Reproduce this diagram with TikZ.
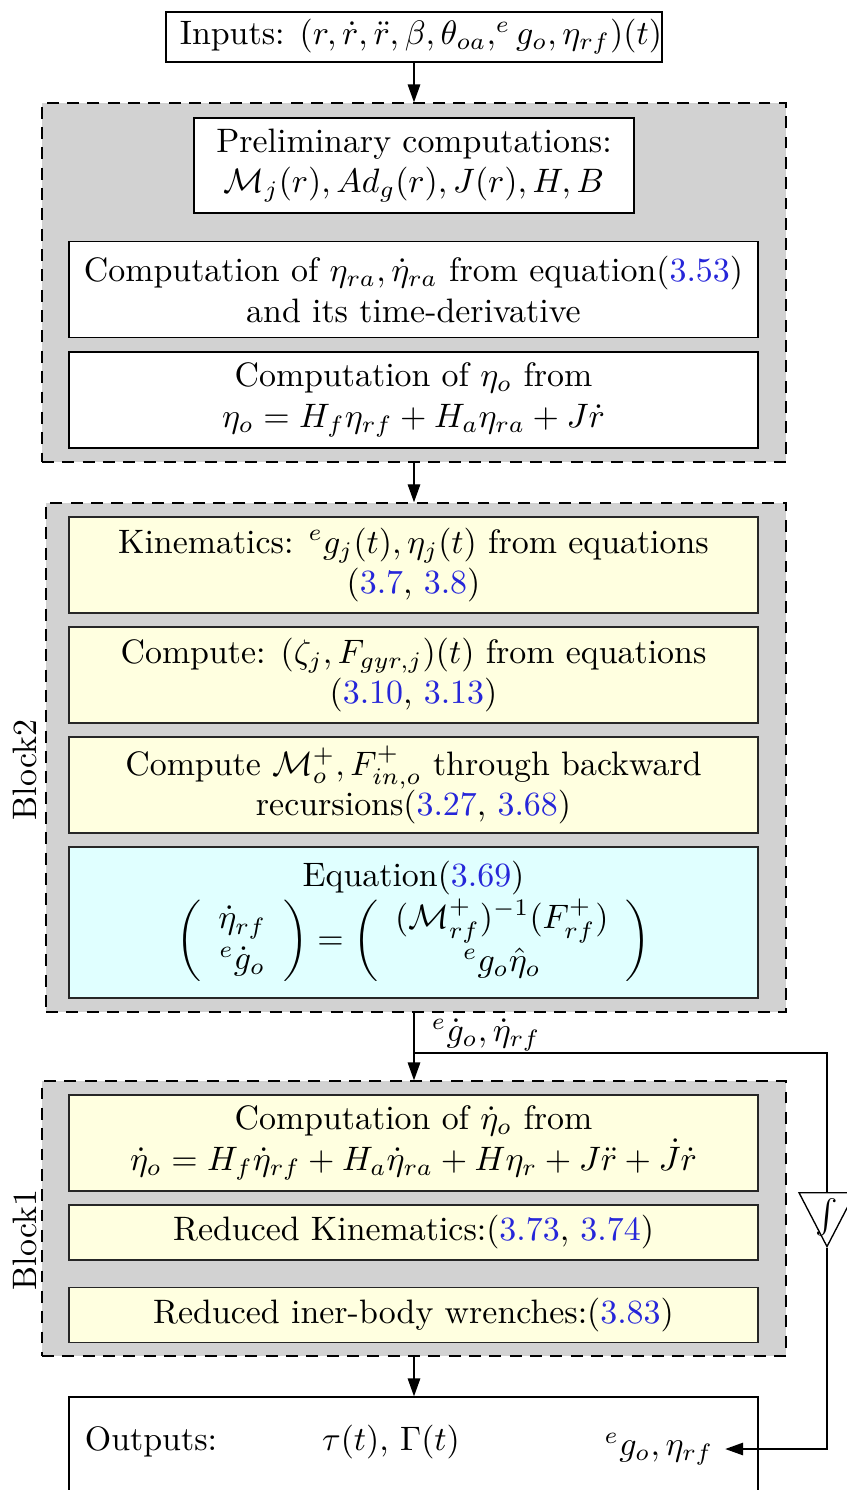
\documentclass[tikz,border=0pt]{standalone}
\usepackage{amsmath, amssymb}
\usetikzlibrary{arrows.meta, shapes.geometric}
\definecolor{refblue}{rgb}{0.15,0.15,0.85}
\definecolor{boxyellow}{RGB}{255,255,224}
\definecolor{boxcyan}{RGB}{224,255,255}
\newcommand{\refno}[1]{\textcolor{refblue}{#1}}

\begin{document}
\begin{tikzpicture}[x=0.295pt, y=-0.295pt, >={Triangle[length=5.3pt,width=3.7pt]},
    block/.style={draw, dash pattern=on 3.5pt off 2.5pt, fill=gray!35, inner sep=0},
    stage/.style={draw, fill=white, align=center, minimum width=203.3pt, minimum height=28.3pt, inner sep=1pt},
    ystage/.style={stage, fill=boxyellow, draw=black!85}]
  \useasboundingbox (0,0) rectangle (846,1490);
  % Inputs
  \node[draw, text width=146.3pt, align=flush right, minimum height=14.75pt, inner xsep=0, inner ysep=1pt] (in) at (414,37)
    {Inputs: $(r,\dot{r},\ddot{r},\beta,\theta_{oa},^e g_o,\eta_{rf})(t)$};
  % Preliminary block
  \node[block, minimum width=219.5pt, minimum height=105.9pt] (b0) at (414,282.5) {};
  \node[stage, minimum width=129.8pt, minimum height=28pt] (pre) at (414,165.5)
    {Preliminary computations:\\ $\mathcal{M}_j(r), Ad_g(r), J(r), H, B$};
  \node[stage] (era) at (413.5,289.5)
    {Computation of $\eta_{ra}, \dot{\eta}_{ra}$ from equation(\refno{3.53})\\ and its time-derivative};
  \node[stage] (eo) at (413.5,400)
    {Computation of $\eta_o$ from\\ $\eta_o = H_f\eta_{rf} + H_a\eta_{ra} + J\dot{r}$};
  % Block2
  \node[block, minimum width=218.3pt, minimum height=150.2pt] (b2) at (416,757.5) {};
  \node[rotate=90] (l2) at (25,770) {Block2};
  \node[ystage] (kin) at (413.5,565)
    {Kinematics: $^e g_j(t), \eta_j(t)$ from equations\\ (\refno{3.7}, \refno{3.8})};
  \node[ystage] (gyr) at (413.5,675)
    {Compute: $(\zeta_j, F_{gyr,j})(t)$ from equations\\ (\refno{3.10}, \refno{3.13})};
  \node[ystage] (rec) at (413.5,785)
    {Compute $\mathcal{M}^+_o, F^+_{in,o}$ through backward\\ recursions(\refno{3.27}, \refno{3.68})};
  \node[stage, fill=boxcyan, draw=black!85, minimum height=44.5pt] (eq) at (413.5,922.5)
    {Equation(\refno{3.69})\\
     $\left(\begin{array}{c} \dot{\eta}_{rf}\\ ^e\dot{g}_o \end{array}\right)
      = \left(\begin{array}{c} (\mathcal{M}^+_{rf})^{-1}(F^+_{rf})\\ ^e g_o\hat{\eta}_o \end{array}\right)$};
  % Block1
  \node[block, minimum width=219.5pt, minimum height=81.1pt] (b1) at (414,1218.5) {};
  \node[rotate=90] (l1) at (25,1240) {Block1};
  \node[ystage] (deo) at (413.5,1143)
    {Computation of $\dot{\eta}_o$ from\\ $\dot{\eta}_o = H_f\dot{\eta}_{rf} + H_a\dot{\eta}_{ra} + H\eta_r + J\ddot{r} + \dot{J}\dot{r}$};
  \node[ystage, minimum height=16.2pt] (rk) at (413.5,1232.5)
    {Reduced Kinematics:(\refno{3.73}, \refno{3.74})};
  \node[ystage, minimum height=16.2pt] (rw) at (413.5,1315)
    {Reduced iner-body wrenches:(\refno{3.83})};
  % Outputs
  \node[draw, minimum width=203.3pt, minimum height=41.3pt] (out) at (413.5,1467) {};
  \node[anchor=west] (ol) at (73,1442) {Outputs:};
  \node (ot) at (391,1442) {$\tau(t)$, $\Gamma(t)$};
  \node (og) at (659,1449) {$^e g_o, \eta_{rf}$};
  % integrator loop
  \node[draw, isosceles triangle, shape border rotate=-90, isosceles triangle stretches,
    minimum width=16.5pt, minimum height=15.9pt, inner sep=0, anchor=north] (int) at (827,1192) {};
  \node (intl) at (827,1217) {$\int$};
  \coordinate (sp) at (414,1053);
  \node[anchor=west] (sl) at (420,1035) {$^e\dot{g}_o, \dot{\eta}_{rf}$};
  \draw[->] (in.south) -- (b0.north);
  \draw[->] (b0.south) -- (b0.south |- b2.north);
  \draw[->] (b2.south -| b1.north) -- (b1.north);
  \draw[->] (b1.south) -- (b1.south |- out.north);
  \draw (sp) -| (int.north);
  \draw[->] (int.south) |- (og.east);
\end{tikzpicture}
\end{document}
